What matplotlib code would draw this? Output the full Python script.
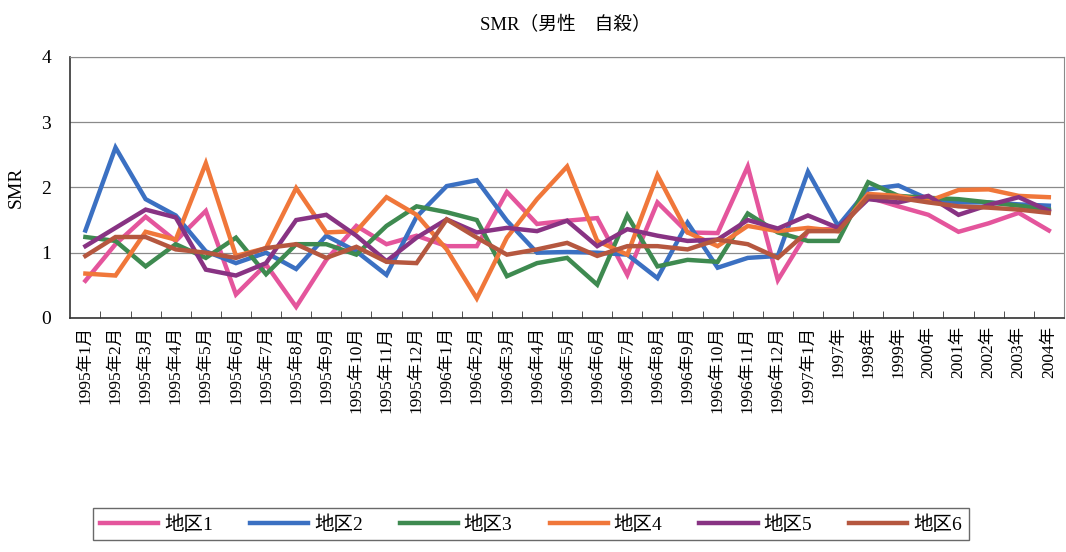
import matplotlib
matplotlib.use('Agg')
import matplotlib.pyplot as plt
import numpy as np

plt.rcParams['font.family'] = ['Liberation Serif', 'Noto Sans CJK JP', 'DejaVu Sans']

months = ['1995年%d月' % m for m in range(1, 13)] + ['1996年%d月' % m for m in range(1, 13)]
categories = months + ['1997年1月', '1997年', '1998年', '1999年', '2000年',
                       '2001年', '2002年', '2003年', '2004年']

area1 = [0.57, 1.13, 1.55, 1.18, 1.64, 0.36, 0.82, 0.17, 0.89, 1.41, 1.13, 1.26,
         1.10, 1.10, 1.93, 1.44, 1.49, 1.53, 0.66, 1.77, 1.31, 1.30, 2.32, 0.58,
         1.33, 1.38, 1.85, 1.71, 1.58, 1.32, 1.45, 1.61, 1.34]
area2 = [1.34, 2.61, 1.82, 1.57, 1.02, 0.84, 1.00, 0.75, 1.26, 1.02, 0.66, 1.55,
         2.02, 2.11, 1.49, 1.00, 1.01, 1.00, 0.97, 0.61, 1.46, 0.77, 0.92, 0.95,
         2.24, 1.41, 1.97, 2.03, 1.82, 1.77, 1.77, 1.74, 1.72]
area3 = [1.24, 1.18, 0.79, 1.13, 0.92, 1.23, 0.67, 1.13, 1.13, 0.97, 1.41, 1.71,
         1.62, 1.50, 0.64, 0.84, 0.92, 0.51, 1.57, 0.79, 0.89, 0.86, 1.60, 1.31,
         1.18, 1.18, 2.08, 1.87, 1.84, 1.82, 1.77, 1.72, 1.66]
area4 = [0.68, 0.65, 1.32, 1.20, 2.37, 0.95, 1.07, 1.99, 1.31, 1.33, 1.85, 1.58,
         1.05, 0.30, 1.23, 1.82, 2.32, 1.18, 0.97, 2.19, 1.31, 1.10, 1.41, 1.33,
         1.38, 1.33, 1.90, 1.87, 1.79, 1.96, 1.97, 1.87, 1.85]
area5 = [1.10, 1.38, 1.66, 1.54, 0.74, 0.65, 0.84, 1.50, 1.58, 1.26, 0.87, 1.23,
         1.51, 1.31, 1.38, 1.33, 1.49, 1.10, 1.36, 1.26, 1.18, 1.20, 1.50, 1.37,
         1.57, 1.38, 1.82, 1.77, 1.87, 1.58, 1.73, 1.85, 1.64]
area6 = [0.95, 1.24, 1.24, 1.05, 1.00, 0.92, 1.07, 1.13, 0.92, 1.09, 0.86, 0.84,
         1.51, 1.23, 0.97, 1.05, 1.15, 0.95, 1.10, 1.10, 1.05, 1.20, 1.13, 0.92,
         1.33, 1.33, 1.86, 1.84, 1.77, 1.71, 1.69, 1.66, 1.61]

series = [area1, area2, area3, area4, area5, area6]
names = ['地区1', '地区2', '地区3', '地区4', '地区5', '地区6']
colors = ['#e4559c', '#3b70c2', '#3e8a50', '#f0773a', '#883383', '#b5573f']

fig = plt.figure(figsize=(10.66, 5.52), dpi=100)
ax = fig.add_axes([0.066, 0.424, 0.932, 0.473])

x = np.arange(len(categories))
for vals, name, c in zip(series, names, colors):
    ax.plot(x, vals, color=c, lw=3.2, label=name, solid_joinstyle='miter')

ax.set_xlim(-0.5, len(categories) - 0.5)
ax.set_ylim(0, 4)
ax.set_yticks([0, 1, 2, 3, 4])
ax.yaxis.grid(True, color='#8a8a8a', lw=0.9)
ax.set_axisbelow(True)

ax.set_xticks(x)
ax.set_xticklabels(categories, rotation=90, fontsize=12.5)
ax.tick_params(axis='x', length=0, pad=6)
ax.set_xticks(np.arange(0.5, len(categories) - 0.5), minor=True)
ax.tick_params(axis='x', which='minor', direction='in', length=5, color='#333333')
ax.tick_params(axis='y', length=0, labelsize=14, pad=14)

for s in ['top', 'right']:
    ax.spines[s].set_color('#8a8a8a')
for s in ['left', 'bottom']:
    ax.spines[s].set_color('#333333')
    ax.spines[s].set_linewidth(1.2)

ax.set_ylabel('SMR', fontsize=14, labelpad=12)
fig.text(0.53, 0.955, 'SMR（男性　自殺）', ha='center', va='center', fontsize=13.5)

leg = fig.legend(loc='center', bbox_to_anchor=(0.498, 0.05), ncol=6, fontsize=14,
                 frameon=True, fancybox=False, edgecolor='#444444', handlelength=3.0,
                 handletextpad=0.3, columnspacing=1.9, borderpad=0.35)
leg.get_frame().set_linewidth(1.0)

fig.savefig('out.png', dpi=100)
